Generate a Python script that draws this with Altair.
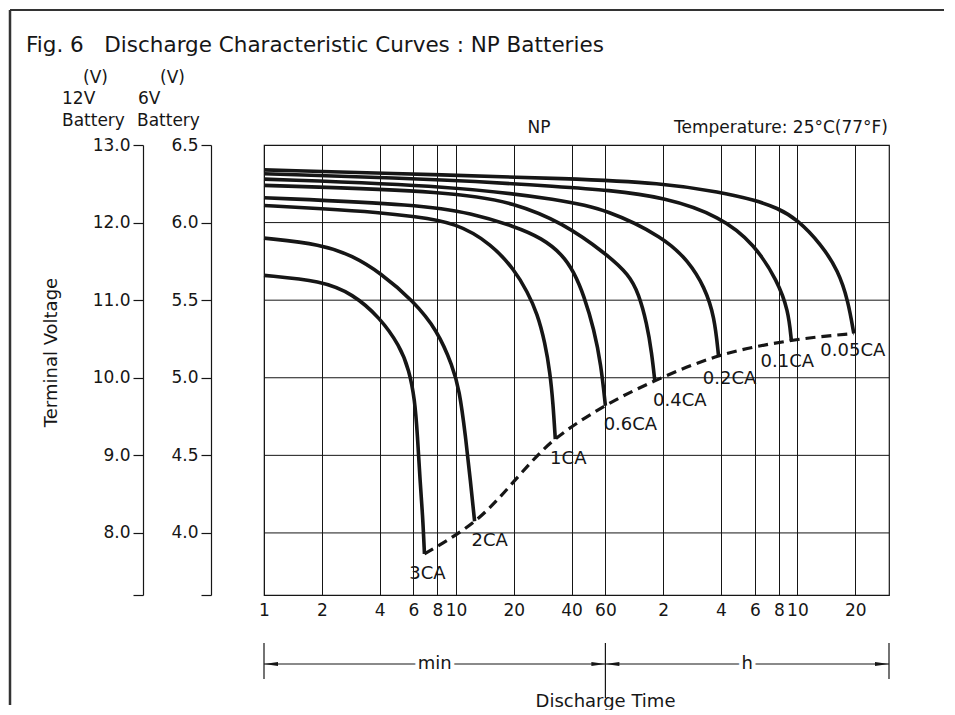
import altair as alt
import pandas as pd

FONT = "DejaVu Sans"
INK = "#161616"

# ---------------- data (minutes, 12 V battery volts) ----------------
curve_labels = ["3CA", "2CA", "1CA", "0.6CA", "0.4CA", "0.2CA", "0.1CA", "0.05CA"]

t_3ca = [1, 2, 2.9, 4, 5.1, 5.7, 6.1, 6.3, 6.5, 6.7, 6.85]
v_3ca = [11.32, 11.25, 11.08, 10.78, 10.41, 10.10, 9.72, 9.26, 8.66, 8.24, 7.73]

t_2ca = [1, 2, 2.9, 4, 6, 8, 9.6, 10.4, 11.2, 11.9, 12.5]
v_2ca = [11.80, 11.72, 11.57, 11.36, 10.99, 10.61, 10.15, 9.85, 9.26, 8.66, 8.15]

t_1ca = [1, 2, 4, 6, 10, 15.4, 20.3, 23.5, 26.5, 29.1, 30.9, 32.0, 32.9]
v_1ca = [12.22, 12.18, 12.13, 12.08, 12.00, 11.72, 11.38, 11.11, 10.83, 10.45, 10.06, 9.68, 9.21]

t_06ca = [1, 6.7, 12, 20.3, 28.0, 35.8, 41.2, 46.4, 52.4, 56.9, 60.0]
v_06ca = [12.32, 12.23, 12.12, 11.95, 11.80, 11.59, 11.36, 11.06, 10.62, 10.17, 9.64]

t_04ca = [1, 10, 20.3, 35.8, 61.2, 79.5, 89.6, 98.6, 104.6, 108.5]
v_04ca = [12.48, 12.40, 12.25, 12.00, 11.59, 11.33, 11.08, 10.70, 10.32, 9.96]

t_02ca = [1, 10, 35.8, 61, 121, 163, 197, 222, 233]
v_02ca = [12.56, 12.47, 12.29, 12.17, 11.81, 11.50, 11.17, 10.79, 10.28]

t_01ca = [1, 10, 35.8, 61, 121, 239, 359, 472, 538, 558]
v_01ca = [12.63, 12.55, 12.46, 12.42, 12.33, 12.08, 11.72, 11.25, 10.87, 10.48]

t_005ca = [1, 10, 35.8, 121, 239, 359, 472, 600, 798, 979, 1103, 1180]
v_005ca = [12.68, 12.61, 12.57, 12.51, 12.39, 12.29, 12.19, 12.04, 11.72, 11.38, 10.99, 10.57]

x_ticks = [1, 2, 4, 6, 8, 10, 20, 40, 60, 120, 240, 360, 480, 600, 1200]
y_ticks = [7.2, 8, 9, 10, 11, 12, 13]
grid_volts = [8, 9, 10, 11, 12]
span_start = [1, 60]
span_end = [60, 1800]
span_unit = ["min", "h"]
bar_times = [1, 60, 1800]

# ---------------- tables ----------------
series = {
    "3CA": (t_3ca, v_3ca), "2CA": (t_2ca, v_2ca), "1CA": (t_1ca, v_1ca),
    "0.6CA": (t_06ca, v_06ca), "0.4CA": (t_04ca, v_04ca), "0.2CA": (t_02ca, v_02ca),
    "0.1CA": (t_01ca, v_01ca), "0.05CA": (t_005ca, v_005ca),
}
rows = []
for name in curve_labels:
    ts, vs = series[name]
    for t, v in zip(ts, vs):
        rows.append({"curve": name, "t": t, "v": v})
curves_df = pd.DataFrame(rows)

ends_df = pd.DataFrame({
    "curve": curve_labels,
    "t": [series[c][0][-1] for c in curve_labels],
    "v": [series[c][1][-1] for c in curve_labels],
})

# label placement (pixels) relative to each curve end
label_offsets = {
    "3CA": (3, 20), "2CA": (15, 20), "1CA": (13, 20), "0.6CA": (25, 19),
    "0.4CA": (25, 20), "0.2CA": (11, 23), "0.1CA": (-4, 21), "0.05CA": (-1, 17),
}

grid_df = pd.DataFrame({"v": grid_volts})
spans_df = pd.DataFrame({"t1": span_start, "t2": span_end, "unit": span_unit})
spans_df["mid"] = (spans_df["t1"] * spans_df["t2"]) ** 0.5
heads_l = pd.DataFrame({"t": span_start})
heads_r = pd.DataFrame({"t": span_end})
bars_df = pd.DataFrame({"t": bar_times, "long": [0, 1, 0]})
anchor = pd.DataFrame({"a": [0]})

W, H = 625, 450
xs = alt.Scale(type="log", domain=[1, 1800], nice=False)
ys = alt.Scale(domain=[7.2, 13.0], nice=False, zero=False)

x_axis = alt.Axis(
    values=x_ticks,
    labelExpr="datum.value > 60 ? format(datum.value / 60, 'd') : format(datum.value, 'd')",
    grid=True, gridColor=INK, gridWidth=1, gridOpacity=1,
    ticks=False, domain=False, labelFont=FONT, labelFontSize=17, labelColor=INK,
    labelPadding=7, labelOverlap=False, labelFlush=False,
    title="Discharge Time", titleFont=FONT, titleFontSize=18, titleFontWeight="normal",
    titleColor=INK, titleX=341, titleY=106, titleAlign="center", titleBaseline="middle",
)
axis12 = alt.Axis(
    orient="left", offset=121, values=y_ticks,
    labelExpr="datum.value < 7.5 ? '' : format(datum.value, '.1f')",
    grid=False, tickSize=10, tickColor=INK, tickWidth=1.2, domainColor=INK, domainWidth=1.2,
    labelFont=FONT, labelFontSize=17, labelColor=INK, labelPadding=3,
    title="Terminal Voltage", titleFont=FONT, titleFontSize=18, titleFontWeight="normal",
    titleColor=INK, titleX=-92, titleY=207, titleAngle=-90, titleAlign="center",
    titleBaseline="middle",
)
axis6 = alt.Axis(
    orient="left", offset=53, values=y_ticks,
    labelExpr="datum.value < 7.5 ? '' : format(datum.value / 2, '.1f')",
    grid=False, tickSize=10, tickColor=INK, tickWidth=1.2, domainColor=INK, domainWidth=1.2,
    labelFont=FONT, labelFontSize=17, labelColor=INK, labelPadding=3, title=None,
)

hgrid = alt.Chart(grid_df).mark_rule(color=INK, strokeWidth=1).encode(
    y=alt.Y("v:Q", scale=ys, axis=axis6)
)

curves = alt.Chart(curves_df).mark_line(
    color=INK, strokeWidth=3.6, interpolate="basis", strokeCap="butt"
).encode(
    x=alt.X("t:Q", scale=xs, axis=x_axis),
    y=alt.Y("v:Q", scale=ys, axis=axis12),
    detail="curve:N",
)

endline = alt.Chart(ends_df).mark_line(
    color=INK, strokeWidth=3.2, strokeDash=[10, 6], interpolate="monotone"
).encode(
    x=alt.X("t:Q", scale=xs, axis=None),
    y=alt.Y("v:Q", scale=ys, axis=None),
)

label_layers = []
for name in curve_labels:
    dx, dy = label_offsets[name]
    label_layers.append(
        alt.Chart(ends_df[ends_df["curve"] == name]).mark_text(
            font=FONT, fontSize=18, color=INK, align="center", baseline="middle", dx=dx, dy=dy
        ).encode(
            x=alt.X("t:Q", scale=xs, axis=None),
            y=alt.Y("v:Q", scale=ys, axis=None),
            text="curve:N",
        )
    )

ROW_Y = 519
span_lines = alt.Chart(spans_df).mark_rule(color=INK, strokeWidth=1.2).encode(
    x=alt.X("t1:Q", scale=xs, axis=None), x2="t2:Q", y=alt.value(ROW_Y)
)
halo = alt.Chart(spans_df).mark_text(
    font=FONT, fontSize=18, color="white", stroke="white", strokeWidth=8, baseline="middle"
).encode(x=alt.X("mid:Q", scale=xs, axis=None), y=alt.value(ROW_Y), text="unit:N")
unit_text = alt.Chart(spans_df).mark_text(
    font=FONT, fontSize=18, color=INK, baseline="middle"
).encode(x=alt.X("mid:Q", scale=xs, axis=None), y=alt.value(ROW_Y), text="unit:N")
left_heads = alt.Chart(heads_l).mark_point(
    shape="M -1 0 L 1 -0.28 L 1 0.28 Z", filled=True, color=INK, opacity=1, size=196, xOffset=7
).encode(x=alt.X("t:Q", scale=xs, axis=None), y=alt.value(ROW_Y))
right_heads = alt.Chart(heads_r).mark_point(
    shape="M 1 0 L -1 -0.28 L -1 0.28 Z", filled=True, color=INK, opacity=1, size=196, xOffset=-7
).encode(x=alt.X("t:Q", scale=xs, axis=None), y=alt.value(ROW_Y))
bars_short = alt.Chart(bars_df[bars_df["long"] == 0]).mark_rule(color=INK, strokeWidth=1.2).encode(
    x=alt.X("t:Q", scale=xs, axis=None), y=alt.value(498), y2=alt.value(534)
)
bars_long = alt.Chart(bars_df[bars_df["long"] == 1]).mark_rule(color=INK, strokeWidth=1.2).encode(
    x=alt.X("t:Q", scale=xs, axis=None), y=alt.value(498), y2=alt.value(553)
)


def note(text, x, y, size=17, align="left"):
    return alt.Chart(anchor).mark_text(
        text=text, align=align, baseline="middle", font=FONT, fontSize=size, color=INK
    ).encode(x=alt.value(x), y=alt.value(y))


texts = [
    note("Fig. 6\u00a0\u00a0\u00a0Discharge Characteristic Curves : NP Batteries", -238, -99, size=21.5),
    note("(V)", -181, -67), note("12V", -202, -46), note("Battery", -202, -24),
    note("(V)", -104, -67), note("6V", -126, -46), note("Battery", -127, -24),
    note("NP", 275, -17, align="center"),
    note("Temperature: 25°C(77°F)", 624, -17, align="right"),
]

border_left = alt.Chart(anchor).mark_rule(color="#333", strokeWidth=2.5).encode(
    x=alt.value(-254), y=alt.value(-135), y2=alt.value(560)
)
border_top = alt.Chart(anchor).mark_rule(color="#333", strokeWidth=2).encode(
    x=alt.value(-254), x2=alt.value(680), y=alt.value(-135)
)

chart = alt.layer(
    hgrid, curves, endline, *label_layers,
    span_lines, halo, unit_text, left_heads, right_heads, bars_short, bars_long,
    *texts, border_left, border_top,
).resolve_axis(y="independent", x="independent").properties(
    width=W, height=H, padding=0, background="white"
).configure_view(stroke=INK, strokeWidth=1.2)

chart.save("out.html", embed_options={"renderer": "svg", "actions": False})
